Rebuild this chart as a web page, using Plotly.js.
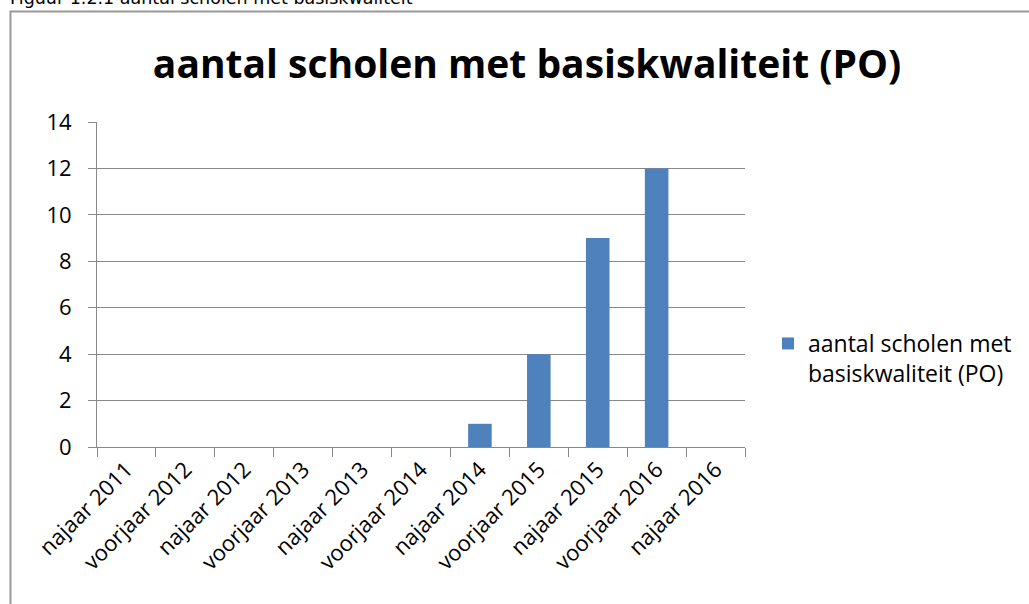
<!DOCTYPE html>
<html>
<head>
<meta charset="utf-8">
<script src="https://cdn.plot.ly/plotly-3.0.1.min.js"></script>
<style>html,body{margin:0;padding:0;background:#fff;} #chart{width:1029px;height:604px;}</style>
</head>
<body>
<div id="chart"></div>
<script>
var categories = ["najaar 2011","voorjaar 2012","najaar 2012","voorjaar 2013","najaar 2013","voorjaar 2014","najaar 2014","voorjaar 2015","najaar 2015","voorjaar 2016","najaar 2016"];
var values = [0,0,0,0,0,0,1,4,9,12,0];
var seriesName = "aantal scholen met<br>basiskwaliteit (PO)";
var chartTitle = "aantal scholen met basiskwaliteit (PO)";
var caption = "Figuur 1.2.1 aantal scholen met basiskwaliteit";
var yTicks = [0,2,4,6,8,10,12,14];

var W = 1029, H = 604, L = 97, R = 1029-745, T = 122, B = 604-447;
var pw = W-L-R, ph = H-T-B;
function px(x){return (x-L)/pw;}
function py(y){return (H-B-y)/ph;}

var font = "Open Sans, Liberation Sans, sans-serif";
var trace = {
  type: "bar", x: categories, y: values, name: seriesName,
  marker: {color: "#4F81BD", line: {width: 0}},
  showlegend: true
};
var layout = {
  width: W, height: H,
  margin: {l: L, r: R, t: T, b: B, pad: 0, autoexpand: false},
  paper_bgcolor: "#fff", plot_bgcolor: "#fff",
  font: {family: font, size: 22, color: "#000"},
  bargap: 0.6,
  title: {text: "<b>" + chartTitle + "</b>", font: {family: font, size: 39, color: "#000"},
          xref: "container", x: 527/1029, xanchor: "center", yref: "container", y: 1-64/604, yanchor: "middle"},
  xaxis: {type: "category", tickson: "boundaries", ticks: "outside", ticklen: 9, tickcolor: "#888", tickwidth: 1,
          showline: true, linecolor: "#888", linewidth: 1, showgrid: false, tickangle: -45,
          tickfont: {family: font, size: 22, color: "#000"}, fixedrange: true},
  yaxis: {range: [0,14], tickvals: yTicks, ticks: "outside", ticklen: 8, tickcolor: "#888",
          showline: true, linecolor: "#888", linewidth: 1, showgrid: true, gridcolor: "#888", gridwidth: 1,
          zeroline: false, tickfont: {family: font, size: 22, color: "#000"}, ticklabelstandoff: 12},
  legend: {x: px(768), xanchor: "left", y: py(322), yanchor: "top", valign: "top",
           font: {family: font, size: 23, color: "#000"}, bgcolor: "rgba(0,0,0,0)", itemwidth: 30},
  shapes: [{type: "rect", xref: "paper", yref: "paper", x0: px(10.5), x1: px(1040), y0: py(615), y1: py(11.5),
            line: {color: "#999", width: 2}, fillcolor: "rgba(0,0,0,0)", layer: "below"}],
  annotations: [{text: caption, xref: "paper", yref: "paper", x: px(8), xanchor: "left", y: py(-2), yanchor: "middle",
                 showarrow: false, font: {family: "DejaVu Sans, Verdana, sans-serif", size: 17.5, color: "#000"}}]
};
Plotly.newPlot("chart", [trace], layout, {displayModeBar: false, staticPlot: true});
</script>
</body>
</html>
